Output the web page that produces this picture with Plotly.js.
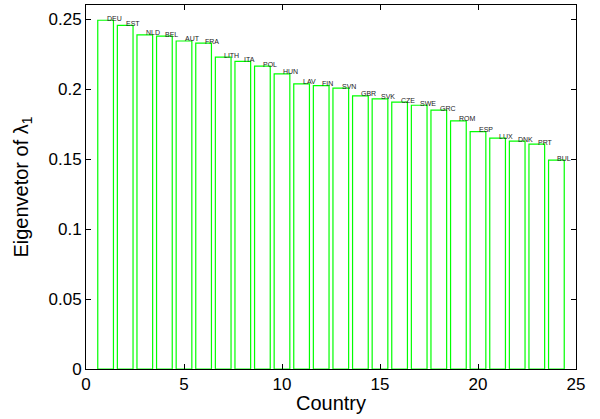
<!DOCTYPE html>
<html>
<head>
<meta charset="utf-8">
<script src="https://cdn.plot.ly/plotly-3.0.1.min.js"></script>
<style>html,body{margin:0;padding:0;background:#fff;}#chart{width:600px;height:419px;}</style>
</head>
<body>
<div id="chart"></div>
<script>
const countries = ["DEU","EST","NLD","BEL","AUT","FRA","LITH","ITA","POL","HUN","LAV","FIN","SVN","GBR","SVK","CZE","SWE","GRC","ROM","ESP","LUX","DNK","PRT","BUL"];
const positions = [1,2,3,4,5,6,7,8,9,10,11,12,13,14,15,16,17,18,19,20,21,22,23,24];
const eigenvector = [0.2491,0.2455,0.2386,0.2377,0.2343,0.2327,0.2227,0.2198,0.2163,0.2108,0.2036,0.2024,0.2006,0.1951,0.1929,0.1906,0.1884,0.1849,0.1772,0.1696,0.1649,0.1627,0.1606,0.1492];
const xTicks = [0,5,10,15,20,25];
const yTicks = [0,0.05,0.1,0.15,0.2,0.25];
const yTickText = ["0","0.05","0.1","0.15","0.2","0.25"];

const trace = {
  type: 'bar',
  x: positions,
  y: eigenvector,
  width: 0.8,
  marker: {color: 'rgba(255,255,255,0)', line: {color: '#00ff00', width: 1.2}},
  hoverinfo: 'skip'
};

const annotations = positions.map((p, i) => ({
  x: p, y: eigenvector[i], xref: 'x', yref: 'y',
  text: countries[i], showarrow: false,
  xanchor: 'left', yanchor: 'middle', yshift: 2, xshift: -1,
  font: {family: 'Liberation Sans, Arial, sans-serif', size: 7, color: '#222'}
}));

const axisCommon = {
  showline: true, linecolor: '#000', linewidth: 1, mirror: 'ticks',
  ticks: 'inside', ticklen: 5, tickcolor: '#000', tickwidth: 1,
  showgrid: false, zeroline: false,
  tickfont: {family: 'Liberation Sans, Arial, sans-serif', size: 17, color: '#000'}
};

const layout = {
  width: 600, height: 419,
  margin: {l: 85.5, r: 24, t: 4.7, b: 49.7},
  paper_bgcolor: '#fff', plot_bgcolor: '#fff',
  showlegend: false,
  xaxis: Object.assign({}, axisCommon, {
    range: [0, 25], tickvals: xTicks, ticktext: xTicks.map(String),
    title: {text: 'Country', font: {family: 'Liberation Sans, Arial, sans-serif', size: 20, color: '#000'}, standoff: 2}
  }),
  yaxis: Object.assign({}, axisCommon, {
    range: [0, 0.26], tickvals: yTicks, ticktext: yTickText,
    title: {text: 'Eigenvetor of λ<sub>1</sub>', font: {family: 'Liberation Sans, Arial, sans-serif', size: 20, color: '#000'}, standoff: 14}
  }),
  annotations: annotations
};

Plotly.newPlot('chart', [trace], layout, {staticPlot: true, displayModeBar: false});
</script>
</body>
</html>
